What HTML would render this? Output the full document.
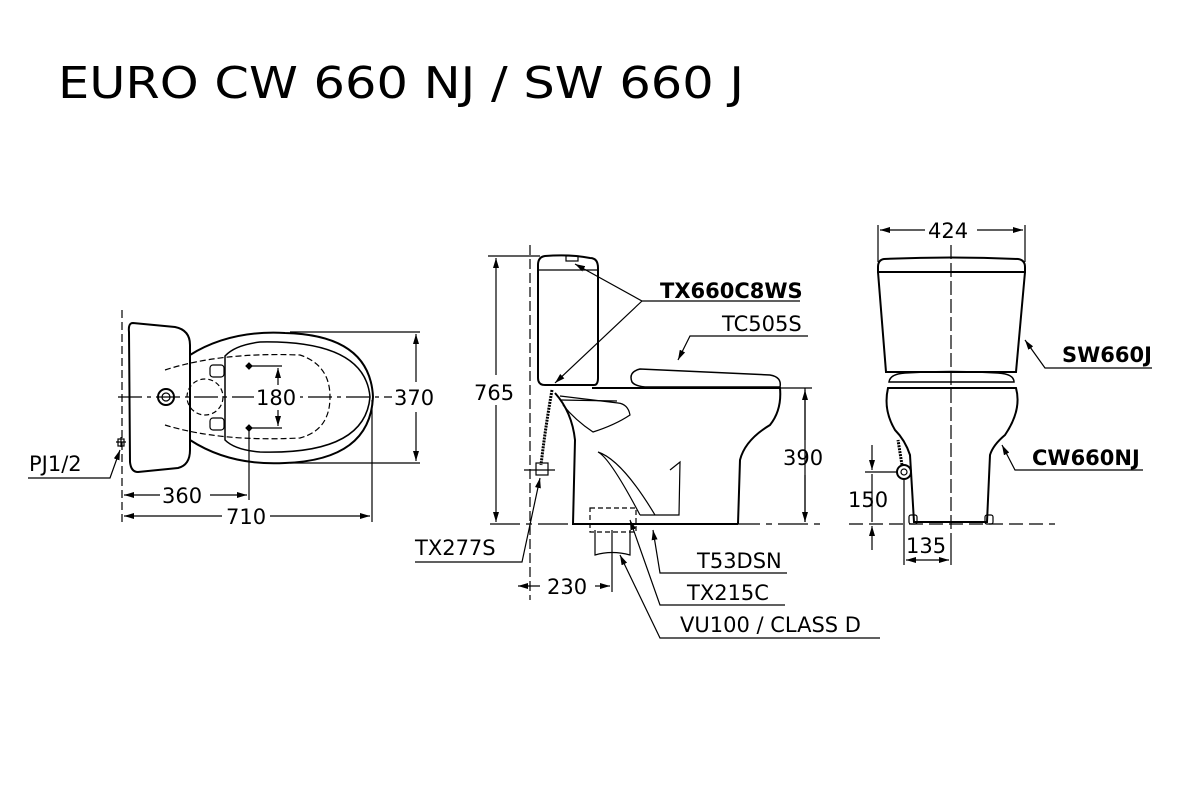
<!DOCTYPE html>
<html><head><meta charset="utf-8"><style>
html,body{margin:0;padding:0;background:#fff;}
svg{display:block;}
text{font-family:"DejaVu Sans","Liberation Sans",sans-serif;fill:#000;}
</style></head><body>
<svg width="1189" height="800" viewBox="0 0 1189 800" xmlns="http://www.w3.org/2000/svg">
<defs>
<marker id="a" viewBox="0 0 10 6" refX="10" refY="3" markerWidth="10" markerHeight="6" orient="auto-start-reverse" markerUnits="userSpaceOnUse"><path d="M0,0L10,3L0,6z" fill="#000"/></marker>
</defs>
<text x="58" y="98" font-size="44" textLength="686" lengthAdjust="spacingAndGlyphs">EURO CW 660 NJ / SW 660 J</text>

<g fill="none" stroke="#000" stroke-width="1.2">
<!-- PLAN VIEW -->
<line x1="122" y1="310" x2="122" y2="525" stroke-dasharray="8,4"/>
<line x1="118" y1="397" x2="392" y2="397" stroke-dasharray="24,5,4,5"/>
<path d="M133,323 Q128,323 129,332 L130,462 Q131,472 138,472 L178,468 Q190,465 190,450 L190,345 Q190,330 175,327 Z" stroke-width="2"/>
<path d="M190,355 Q230,330 285,333 Q370,335 373,397 Q370,460 285,463 Q230,466 190,440" stroke-width="2"/>
<path d="M225,356 Q235,345 260,342 Q365,340 370,397 Q365,455 260,452 Q235,450 225,440 Z" stroke-width="1.5"/>
<path d="M165,370 Q220,352 300,355 Q330,365 330,397 Q330,430 300,438 Q220,442 165,425" stroke-dasharray="6,3"/>
<circle cx="166" cy="397" r="8" stroke-width="2"/><circle cx="166" cy="397" r="4"/>
<circle cx="205" cy="397" r="18" stroke-dasharray="5,3"/>
<rect x="210" y="365" width="14" height="12" rx="3"/><rect x="210" y="418" width="14" height="12" rx="3"/>
<line x1="249" y1="366" x2="282" y2="366"/><line x1="249" y1="428" x2="282" y2="428"/>
<path d="M249,363 l3,3 l-3,3 l-3,-3z M249,425 l3,3 l-3,3 l-3,-3z" fill="#000"/>
<line x1="278" y1="368" x2="278" y2="385" marker-start="url(#a)"/><line x1="278" y1="410" x2="278" y2="426" marker-end="url(#a)"/>
<line x1="249" y1="428" x2="249" y2="500"/>
<line x1="290" y1="332" x2="420" y2="332"/><line x1="290" y1="463" x2="420" y2="463"/>
<line x1="416" y1="334" x2="416" y2="382" marker-start="url(#a)"/><line x1="416" y1="412" x2="416" y2="461" marker-end="url(#a)"/>
<line x1="372" y1="400" x2="372" y2="522"/>
<line x1="124" y1="495" x2="160" y2="495" marker-start="url(#a)"/><line x1="210" y1="495" x2="247" y2="495" marker-end="url(#a)"/>
<line x1="124" y1="516" x2="222" y2="516" marker-start="url(#a)"/><line x1="270" y1="516" x2="370" y2="516" marker-end="url(#a)"/>
<path d="M116,442 h10 M121,437 v10"/><rect x="118" y="439" width="6" height="7"/>
<polyline points="28,478 110,478 120,450" marker-end="url(#a)"/>

<!-- SIDE VIEW -->
<line x1="530" y1="245" x2="530" y2="600" stroke-dasharray="10,4"/>
<line x1="490" y1="524" x2="825" y2="524" stroke-dasharray="30,6,6,6"/>
<line x1="488" y1="256" x2="540" y2="256"/>
<line x1="496" y1="258" x2="496" y2="375" marker-start="url(#a)"/><line x1="496" y1="405" x2="496" y2="522" marker-end="url(#a)"/>
<path d="M545,256 Q538,257 538,265 L538,378 Q538,385 545,385 L594,385 Q598,385 598,378 L598,268 Q598,258 590,258 Q570,254 545,256 Z" stroke-width="2"/>
<line x1="538" y1="270" x2="598" y2="270"/>
<rect x="566" y="256" width="12" height="5"/>
<path d="M592,388 L780,388 Q782,410 770,425 Q745,440 740,460 L738,524" stroke-width="2"/>
<path d="M632,382 Q628,372 640,369 L770,375 Q782,377 780,387 L645,387 Q635,386 632,382 Z" stroke-width="1.5"/>
<path d="M555,393 Q572,412 575,440 L573,524 L738,524"  stroke-width="2"/>
<path d="M560,396 L618,403 Q628,404 630,415 Q615,425 593,432 Q575,420 563,405"/>
<line x1="560" y1="400" x2="617" y2="401"/>
<path d="M598,452 Q622,460 655,515 M598,452 Q610,458 640,515"/>
<path d="M670,470 L680,462 L679,515 L640,515"/>
<path d="M552,390 Q545,430 541,465" stroke-width="3" stroke-dasharray="2,1"/>
<rect x="536" y="463" width="12" height="12"/><line x1="524" y1="470" x2="555" y2="470"/>
<rect x="590" y="508" width="46" height="24" stroke-dasharray="5,3"/>
<path d="M595,530 L595,555 Q612,550 630,555 L630,530"/>
<line x1="805" y1="388" x2="805" y2="522"/>
<line x1="778" y1="388" x2="812" y2="388"/>
<line x1="805" y1="390" x2="805" y2="440" marker-start="url(#a)"/><line x1="805" y1="475" x2="805" y2="522" marker-end="url(#a)"/>
<line x1="612" y1="530" x2="612" y2="592"/>
<line x1="518" y1="586" x2="540" y2="586" marker-start="url(#a)"/><line x1="595" y1="586" x2="610" y2="586" marker-end="url(#a)"/>
<polyline points="800,301 642,301 575,264" marker-end="url(#a)"/>
<line x1="642" y1="301" x2="555" y2="383" marker-end="url(#a)"/>
<polyline points="808,336 690,336 678,360" marker-end="url(#a)"/>
<polyline points="415,562 522,562 540,478" marker-end="url(#a)"/>
<polyline points="787,573 660,573 653,530" marker-end="url(#a)"/>
<polyline points="785,605 660,605 630,520" marker-end="url(#a)"/>
<polyline points="880,638 660,638 620,555" marker-end="url(#a)"/>

<!-- FRONT VIEW -->
<line x1="951" y1="245" x2="951" y2="535" stroke-dasharray="14,4"/>
<line x1="849" y1="524" x2="1055" y2="524" stroke-dasharray="14,6"/>
<line x1="878" y1="225" x2="878" y2="262"/><line x1="1025" y1="225" x2="1025" y2="262"/>
<line x1="880" y1="230" x2="925" y2="230" marker-start="url(#a)"/><line x1="977" y1="230" x2="1023" y2="230" marker-end="url(#a)"/>
<path d="M884,259 Q878,260 878,267 L878,272 L1025,272 L1025,267 Q1025,260 1018,259 Q951,256 884,259 Z" stroke-width="2"/>
<path d="M878,272 L886,372 L1016,372 L1025,272" stroke-width="2"/>
<path d="M889,382 Q890,374 905,373 Q951,370 998,373 Q1014,374 1014,382 Z" stroke-width="1.5"/>
<path d="M888,388 L1016,388 Q1022,410 1005,435 Q993,445 990,455 L987,522 L914,522 L910,455 Q905,440 895,430 Q883,410 888,388 Z" stroke-width="2"/>
<rect x="909" y="515" width="8" height="9" rx="2"/><rect x="985" y="515" width="8" height="9" rx="2"/>
<circle cx="904" cy="472" r="7" stroke-width="2"/><circle cx="904" cy="472" r="3"/>
<path d="M902,465 L898,440" stroke-width="3" stroke-dasharray="2,1"/>
<line x1="865" y1="472" x2="898" y2="472"/>
<line x1="904" y1="478" x2="904" y2="565"/><line x1="951" y1="535" x2="951" y2="565"/>
<line x1="872" y1="445" x2="872" y2="470" marker-end="url(#a)"/><line x1="872" y1="550" x2="872" y2="526" marker-end="url(#a)"/>
<line x1="872" y1="474" x2="872" y2="522"/>
<line x1="906" y1="560" x2="949" y2="560" marker-start="url(#a)" marker-end="url(#a)"/>
<polyline points="1152,368 1045,368 1025,340" marker-end="url(#a)"/>
<polyline points="1143,470 1015,470 1002,445" marker-end="url(#a)"/>
</g>
<rect x="254" y="386" width="46" height="22" fill="#fff"/>
<rect x="392" y="386" width="46" height="22" fill="#fff"/>

<g font-size="21">
<text x="256" y="405">180</text>
<text x="394" y="405">370</text>
<text x="162" y="503">360</text>
<text x="226" y="524">710</text>
<text x="29" y="471">PJ1/2</text>
<text x="474" y="400">765</text>
<text x="783" y="465">390</text>
<text x="547" y="594">230</text>
<text x="722" y="331">TC505S</text>
<text x="415" y="555">TX277S</text>
<text x="697" y="568">T53DSN</text>
<text x="687" y="600">TX215C</text>
<text x="680" y="632">VU100 / CLASS D</text>
<text x="928" y="238">424</text>
<text x="848" y="507">150</text>
<text x="906" y="553">135</text>
<text x="660" y="298" font-weight="bold">TX660C8WS</text>
<text x="1062" y="362" font-weight="bold">SW660J</text>
<text x="1032" y="465" font-weight="bold">CW660NJ</text>
</g>
</svg>
</body></html>
